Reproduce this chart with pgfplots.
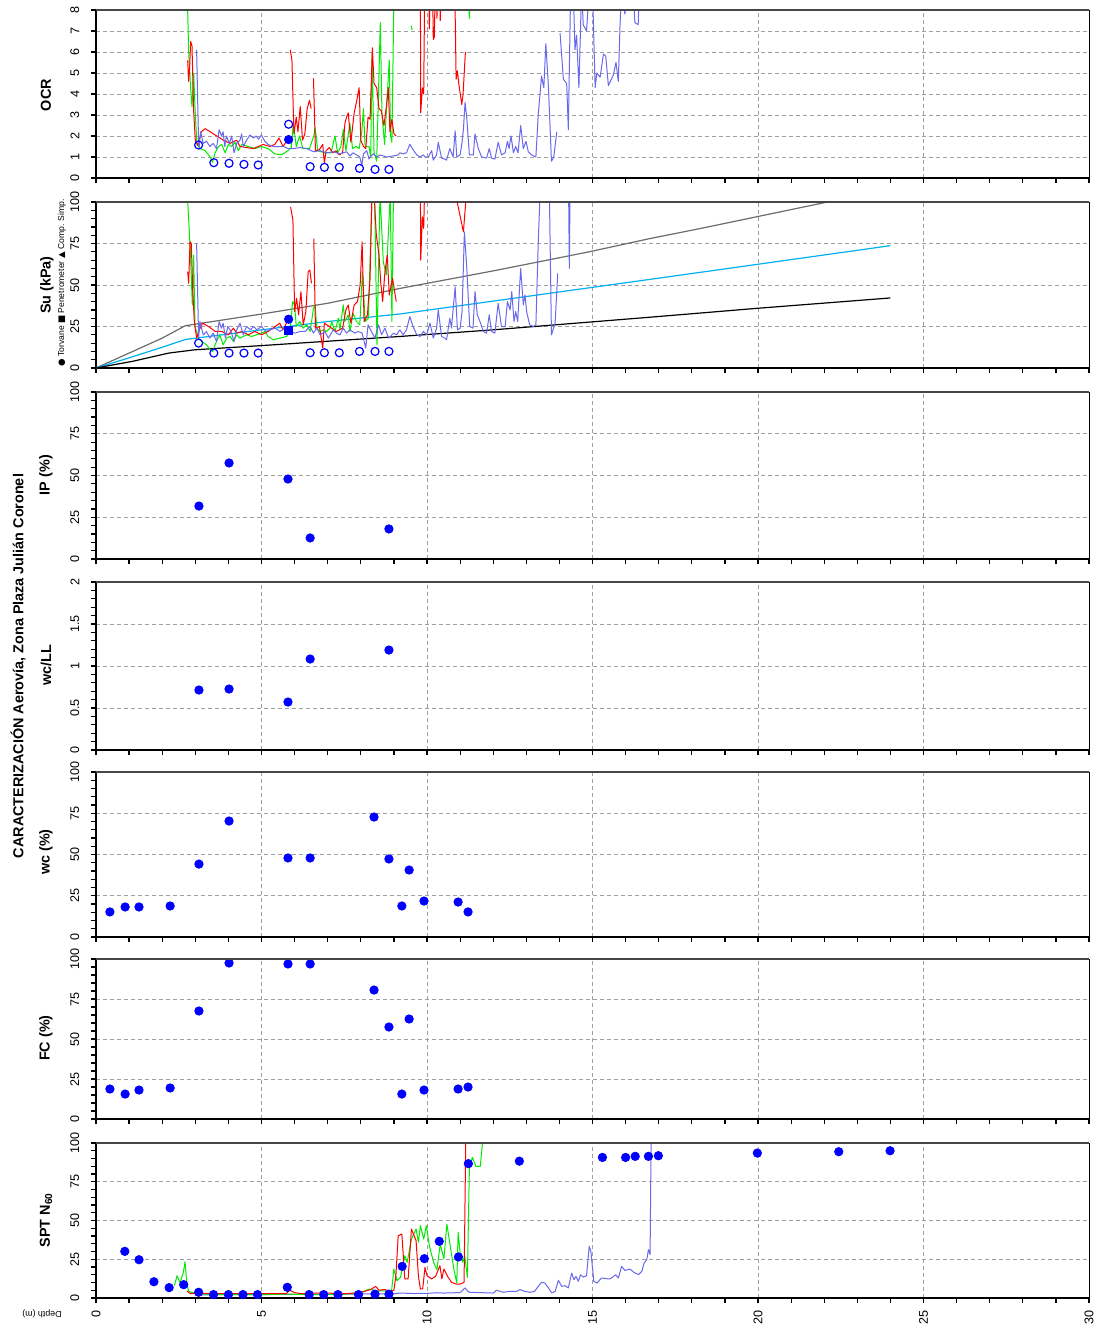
\documentclass[border=0pt]{standalone}
\usepackage{fontspec}
\setmainfont{Liberation Sans}
\newfontfamily\symfont{DejaVu Sans}
\usepackage{pgfplots}
\pgfplotsset{compat=1.18}

\definecolor{cptgreen}{RGB}{0,235,0}
\definecolor{cptred}{RGB}{255,0,0}
\definecolor{cptblue}{RGB}{105,105,235}
\definecolor{lab}{RGB}{0,0,255}
\definecolor{sucyan}{RGB}{0,176,240}

\pgfplotsset{
  panel/.style={
    scale only axis, width=496.5pt, anchor=north west,
    xmin=0, xmax=30, xtick={0,5,...,30}, minor x tick num=4,
    axis x line*=bottom, axis y line*=left,
    axis line style={-, line width=1pt, black},
    tick align=outside, major tick length=2.6pt, minor tick length=2.6pt,
    tick style={black, line width=0.6pt},
    xmajorgrids, ymajorgrids,
    major grid style={gray!75, dash pattern=on 2pt off 1.5pt, line width=0.5pt},
    tick label style={font=\fontsize{6.3}{7}\selectfont},
    /pgf/number format/assume math mode=true,
    yticklabel style={rotate=90, anchor=south},
    yticklabel shift=2.2pt,
    unbounded coords=jump,
    clip mode=individual,
    after end axis/.code={
      \draw[gray!55!black, line width=0.9pt] (rel axis cs:0,1) -- (rel axis cs:1,1);
      \draw[black, line width=0.4pt] (rel axis cs:1,0) -- (rel axis cs:1,1);
    },
  },
  cpt/.style={line width=0.5pt, line join=round, mark=none},
  dots/.style={only marks, mark=*, mark size=2.1pt, mark options={draw=lab, fill=lab}},
  rings/.style={only marks, mark=o, mark size=2pt, mark options={draw=lab, line width=0.6pt}},
}

\begin{document}
\begin{tikzpicture}
\path[use as bounding box] (-48pt,0pt) rectangle (500.5pt,-669.5pt);

% ---------------- OCR ----------------
\begin{axis}[panel, at={(0pt,-5pt)}, height=84pt,
  ymin=0, ymax=8, ytick={0,1,...,8}, xticklabels={}]
\addplot[cpt, cptgreen] coordinates {
(2.76,8.6) (2.80,6.0) (2.85,4.5) (2.90,3.4) (2.95,5.0) (3.00,3.0) (3.05,1.6) (3.15,1.4)
(3.30,1.3) (3.45,1.0) (3.52,0.75) (3.60,1.2) (3.70,1.5) (3.80,1.6) (3.90,1.2) (4.00,1.6)
(4.10,1.5) (4.20,1.7) (4.30,1.3) (4.40,1.6) (4.60,1.5) (4.80,1.4) (5.00,1.5) (5.20,1.4)
(5.40,1.15) (5.60,1.1) (5.80,1.3) (5.90,1.45) (5.96,2.6) (6.05,1.5) (6.15,2.0) (6.25,1.4)
(6.45,1.4) (6.58,2.0) (6.62,2.4) (6.70,1.3) (6.90,1.2) (7.10,1.2) (7.22,2.0) (7.30,1.2)
(7.40,1.5) (7.47,2.3) (7.55,1.3) (7.67,2.6) (7.75,1.4) (7.85,1.5) (7.95,1.4) (8.03,2.2)
(8.08,3.3) (8.13,1.5) (8.25,1.5) (8.30,1.0) (8.34,5.9) (8.40,1.2) (8.48,0.8) (8.55,5.0)
(8.59,7.4) (8.64,3.0) (8.72,1.6) (8.80,4.0) (8.86,5.6) (8.90,2.0) (8.94,1.7) (9.00,8.6)
(9.05,12) (9.10,nan)
(9.52,7.25) (9.55,7.05) (9.60,nan)
(11.26,8.6) (11.28,7.6) (11.30,8.6)
};
\addplot[cpt, cptred] coordinates {
(2.77,5.6) (2.80,4.6) (2.83,5.3) (2.86,6.5) (2.90,6.3) (2.95,3.2) (3.00,1.8) (3.08,1.55)
(3.18,2.2) (3.30,2.35) (3.45,2.2) (3.65,2.0) (3.85,1.8) (4.05,1.65) (4.25,1.8) (4.35,1.5)
(4.55,1.45) (4.75,1.4) (5.05,1.6) (5.25,1.5) (5.40,1.6) (5.53,1.9) (5.65,1.5) (5.80,1.85)
(5.84,nan)
(5.87,6.1) (5.92,5.6) (5.98,2.1) (6.05,2.9) (6.10,2.2) (6.17,3.4) (6.24,1.8) (6.31,2.1)
(6.38,3.3) (6.45,3.7) (6.50,3.3) (6.54,nan)
(6.57,4.75) (6.63,1.3) (6.75,1.35) (6.85,1.6) (6.90,0.7) (6.95,1.3) (7.05,1.45) (7.15,1.2)
(7.25,1.3) (7.35,1.1) (7.45,1.2) (7.52,2.6) (7.57,2.9) (7.62,3.1) (7.70,1.7) (7.80,3.1)
(7.88,3.7) (7.95,4.3) (8.00,1.8) (8.08,1.5) (8.15,1.4) (8.22,2.9) (8.28,2.8) (8.35,6.2)
(8.40,4.5) (8.48,4.3) (8.55,3.3) (8.62,3.2) (8.70,2.5) (8.78,3.5) (8.83,4.3) (8.88,2.2)
(8.94,2.8) (9.00,2.1) (9.07,2.0) (9.20,nan)
(9.80,9) (9.81,3.1) (9.86,4.3) (9.90,4.0) (9.93,9) (10.05,9) (10.07,7.1) (10.10,9)
(10.17,9) (10.19,6.6) (10.22,6.7) (10.25,9) (10.28,9) (10.30,7.6) (10.33,9) (10.38,9)
(10.40,7.5) (10.43,9) (10.84,9) (10.88,4.7) (10.92,5.1) (10.96,4.5) (11.05,3.5) (11.09,4.0)
(11.16,6.0)
};
\addplot[cpt, cptblue] coordinates {
(3.04,6.1) (3.10,1.6) (3.12,1.5) (3.16,2.2) (3.24,1.65) (3.34,1.75) (3.44,1.5) (3.54,1.65)
(3.64,1.4) (3.72,2.3) (3.79,2.0) (3.84,2.2) (3.89,1.5) (3.94,2.0) (4.03,1.65) (4.10,2.0)
(4.17,1.2) (4.25,1.65) (4.35,1.8) (4.40,2.1) (4.45,1.5) (4.55,1.8) (4.65,2.05) (4.76,1.9)
(4.84,2.0) (4.91,1.85) (5.00,2.05) (5.10,1.75) (5.20,1.6) (5.36,1.5) (5.51,1.5) (5.66,1.5)
(5.81,1.4) (5.96,1.4) (6.17,1.45) (6.37,1.4) (6.57,1.25) (6.77,1.3) (6.97,1.2) (7.17,1.25)
(7.37,1.15) (7.57,1.25) (7.67,1.05) (7.77,1.2) (7.87,1.1) (7.97,1.0) (8.03,0.6) (8.08,1.15)
(8.18,1.3) (8.25,0.9) (8.28,1.0) (8.38,1.15) (8.48,1.0) (8.58,1.1) (8.78,1.0) (8.98,1.05)
(9.13,1.1) (9.18,1.2) (9.28,1.15) (9.38,1.2) (9.48,1.6) (9.58,1.35) (9.69,1.1) (9.79,1.0)
(9.89,1.1) (9.94,1.0) (10.04,1.0) (10.14,1.3) (10.19,0.85) (10.29,1.1) (10.34,1.7) (10.44,0.95)
(10.54,0.9) (10.59,0.85) (10.69,1.4) (10.79,1.0) (10.85,2.25) (10.90,1.0) (11.00,1.1) (11.05,1.6)
(11.10,2.3) (11.15,3.6) (11.20,2.9) (11.28,1.1) (11.40,1.1) (11.45,2.1) (11.55,1.4) (11.65,1.0)
(11.80,0.95) (11.88,1.4) (11.95,0.95) (12.05,0.9) (12.15,1.7) (12.25,1.1) (12.36,1.2) (12.43,1.75)
(12.48,1.4) (12.54,2.0) (12.61,1.2) (12.68,1.5) (12.75,1.2) (12.83,2.5) (12.91,1.4) (12.99,1.75)
(13.06,1.25) (13.16,1.1) (13.29,1.0) (13.36,3.0) (13.46,4.85) (13.53,4.3) (13.59,6.4) (13.67,4.3)
(13.76,0.8) (13.83,1.0) (13.92,2.2) (13.97,nan)
(14.02,6.9) (14.12,4.7) (14.22,4.5) (14.27,2.3) (14.34,9) (14.42,9) (14.47,6.1) (14.52,6.8)
(14.59,4.3) (14.67,9) (14.72,7.3) (14.82,7.0) (14.90,9) (15.00,9) (15.08,4.3) (15.13,5.0)
(15.23,4.8) (15.33,5.9) (15.40,5.8) (15.48,4.4) (15.63,4.9) (15.71,5.5) (15.78,4.6) (15.83,7.2)
(15.88,9) (15.98,7.8) (16.05,9) (16.23,9) (16.28,7.4) (16.38,7.3) (16.42,9) (16.60,9)
};
\addplot[rings] coordinates {
(3.10,1.57) (3.56,0.73) (4.02,0.70) (4.47,0.65) (4.90,0.62) (5.82,2.56)
(6.47,0.54) (6.90,0.51) (7.35,0.51) (7.96,0.46) (8.43,0.41) (8.85,0.41)
};
\addplot[dots] coordinates {(5.82,1.83)};
\end{axis}

% ---------------- Su ----------------
\begin{axis}[panel, at={(0pt,-101pt)}, height=83pt,
  ymin=0, ymax=100, ytick={0,25,...,100}, minor y tick num=4, xticklabels={}]
\addplot[line width=0.6pt, gray!85!black] coordinates {
(0,0) (1,9) (2,18) (2.7,25.5) (5,32.5) (7,39) (9.2,48) (12,58.5) (14.9,70) (16.74,78)
(18.25,84) (22.1,100) (24,108)
};
\addplot[line width=0.6pt, sucyan] coordinates {
(0,0) (0.9,5.5) (2,12.5) (2.7,17.2) (5,23) (7,28) (9.2,32.6) (12,40.3) (16.74,53.4)
(20,62.5) (24,73.7)
};
\addplot[line width=0.6pt, black] coordinates {
(0,0) (1.1,4) (2.2,9) (3,11) (5,13.5) (9.18,19) (12,23) (16.74,30.6) (20,36) (24,42.2)
};
\addplot[cpt, cptgreen] coordinates {
(2.76,105) (2.85,70) (2.91,38) (2.95,68) (2.99,25) (3.09,18) (3.20,16) (3.34,14)
(3.45,11) (3.52,10) (3.60,14) (3.64,16) (3.74,20) (3.84,14) (3.95,18) (4.05,19)
(4.15,16) (4.25,20) (4.35,18) (4.45,19) (4.55,20) (4.70,19) (4.85,20) (5.00,21)
(5.10,22) (5.20,19) (5.36,17) (5.56,18) (5.76,19) (5.86,22) (5.94,40) (6.00,38)
(6.05,25) (6.16,28) (6.26,24) (6.37,26) (6.47,22) (6.57,36) (6.62,38) (6.67,24)
(6.77,22) (6.87,23) (6.97,22) (7.07,24) (7.12,28) (7.22,22) (7.32,30) (7.37,23)
(7.47,38) (7.52,28) (7.62,32) (7.67,22) (7.77,33) (7.87,28) (7.97,26) (8.05,58)
(8.13,28) (8.23,30) (8.34,105) (8.42,100) (8.49,14) (8.58,105) (8.68,64) (8.77,56)
(8.84,84) (8.89,105) (8.94,28) (8.99,110) (9.10,150)
};
\addplot[cpt, cptred] coordinates {
(2.77,58) (2.80,51) (2.84,76) (2.88,75) (2.92,48) (2.97,28) (3.04,18) (3.10,22)
(3.22,27) (3.40,25) (3.60,22) (3.80,22) (4.00,20) (4.15,24) (4.25,21) (4.40,22)
(4.60,20) (4.80,22) (5.00,20) (5.20,22) (5.35,24) (5.55,27) (5.65,23) (5.78,28)
(5.83,nan)
(5.88,97) (5.95,89) (6.00,34) (6.06,42) (6.12,32) (6.19,46) (6.26,26) (6.34,34)
(6.41,58) (6.46,59) (6.51,51) (6.55,nan)
(6.58,78) (6.63,24) (6.75,25) (6.85,12) (6.90,27) (7.05,25) (7.25,22) (7.45,24)
(7.55,35) (7.62,38) (7.70,27) (7.80,38) (7.90,40) (7.98,50) (8.04,76) (8.10,28)
(8.20,32) (8.28,54) (8.33,100) (8.40,105) (8.47,80) (8.55,68) (8.60,52) (8.66,40)
(8.73,58) (8.80,68) (8.86,44) (8.96,54) (9.07,40) (9.20,nan)
(9.80,110) (9.81,65) (9.86,91) (9.90,84) (9.93,110) (10.20,nan)
(10.86,105) (11.10,82) (11.19,105)
};
\addplot[cpt, cptblue] coordinates {
(3.04,75) (3.10,18) (3.14,28) (3.24,20) (3.34,22) (3.44,18) (3.54,21) (3.64,16)
(3.72,28) (3.79,24) (3.84,27) (3.91,18) (3.98,25) (4.08,22) (4.17,16) (4.25,23)
(4.35,27) (4.45,20) (4.55,25) (4.67,23) (4.76,25) (4.86,23) (5.00,25) (5.13,22)
(5.25,23) (5.41,24) (5.56,22) (5.71,24) (5.86,22) (6.01,21) (6.16,22) (6.32,22)
(6.47,25) (6.57,21) (6.67,24) (6.77,20) (6.92,22) (7.02,18) (7.17,23) (7.27,21)
(7.37,20) (7.47,24) (7.57,21) (7.67,23) (7.82,21) (7.92,22) (8.04,21) (8.15,12)
(8.22,26) (8.32,22) (8.43,18) (8.53,26) (8.63,20) (8.73,24) (8.84,18) (8.99,21)
(9.08,20) (9.18,23) (9.28,20) (9.38,23) (9.48,31) (9.58,25) (9.69,20) (9.79,19)
(9.89,22) (9.99,20) (10.09,27) (10.19,18) (10.29,24) (10.34,35) (10.44,19) (10.54,18)
(10.59,17) (10.69,30) (10.74,24) (10.85,49) (10.92,23) (11.00,24) (11.06,34) (11.13,82)
(11.20,61) (11.29,25) (11.39,24) (11.45,46) (11.52,32) (11.60,28) (11.70,22) (11.80,21)
(11.88,32) (11.95,22) (12.05,21) (12.15,39) (12.25,25) (12.36,25) (12.43,40) (12.51,35)
(12.56,46) (12.63,28) (12.68,34) (12.74,28) (12.83,60) (12.91,38) (12.96,44) (13.01,34)
(13.10,26) (13.21,25) (13.29,26) (13.36,75) (13.41,102) (13.70,102) (13.76,20) (13.87,27)
(13.95,57) (14.00,nan)
(14.28,102) (14.30,60) (14.32,102)
};
\addplot[rings] coordinates {
(3.10,15) (3.56,9) (4.02,9) (4.47,9) (4.90,9) (6.47,9.2)
(6.90,9.2) (7.35,9.2) (7.96,10) (8.43,10) (8.85,10)
};
\addplot[dots] coordinates {(5.82,29.4)};
\addplot[only marks, mark=square*, mark size=2pt, mark options={draw=lab, fill=lab}]
  coordinates {(5.82,22.6)};
\end{axis}

% ---------------- IP ----------------
\begin{axis}[panel, at={(0pt,-196pt)}, height=83.5pt,
  ymin=0, ymax=100, ytick={0,25,...,100}, minor y tick num=4, xticklabels={}]
\addplot[dots] coordinates {
(3.11,31.7) (4.02,57.5) (5.80,47.9) (6.47,12.6) (8.85,18.0)
};
\end{axis}

% ---------------- wc/LL ----------------
\begin{axis}[panel, at={(0pt,-291pt)}, height=84pt,
  ymin=0, ymax=2, ytick={0,0.5,...,2}, minor y tick num=4, xticklabels={}]
\addplot[dots] coordinates {
(3.11,0.714) (4.02,0.726) (5.80,0.571) (6.47,1.083) (8.85,1.19)
};
\end{axis}

% ---------------- wc ----------------
\begin{axis}[panel, at={(0pt,-386pt)}, height=82.5pt,
  ymin=0, ymax=100, ytick={0,25,...,100}, minor y tick num=4, xticklabels={}]
\addplot[dots] coordinates {
(0.42,15.2) (0.88,18.2) (1.30,18.2) (2.24,18.8) (3.11,44.2) (4.02,70.3) (5.80,47.9)
(6.47,47.9) (8.40,72.7) (8.85,47.3) (9.24,18.8) (9.46,40.6) (9.91,21.8) (10.94,21.2)
(11.24,15.2)
};
\end{axis}

% ---------------- FC ----------------
\begin{axis}[panel, at={(0pt,-479.5pt)}, height=80pt,
  ymin=0, ymax=100, ytick={0,25,...,100}, minor y tick num=4, xticklabels={}]
\addplot[dots] coordinates {
(0.42,18.75) (0.88,15.6) (1.30,18.1) (2.24,19.4) (3.11,67.5) (4.02,97.5) (5.80,96.9)
(6.47,96.9) (8.40,80.6) (8.85,57.5) (9.24,15.6) (9.46,62.5) (9.91,18.1) (10.94,18.75)
(11.24,20.0)
};
\end{axis}

% ---------------- SPT ----------------
\begin{axis}[panel, at={(0pt,-571.5pt)}, height=77.5pt,
  ymin=0, ymax=100, ytick={0,25,...,100}, minor y tick num=4,
  xticklabels={0,5,10,15,20,25,30},
  xticklabel style={rotate=90, anchor=east}]
\addplot[cpt, cptblue] coordinates {
(3.00,2.0) (4.00,2.2) (5.00,2.2) (6.00,2.4) (7.00,2.4) (8.00,2.6) (9.00,2.8) (9.20,3.2)
(9.60,2.9) (10.00,3.0) (10.30,3.4) (10.50,3.2) (11.00,3.5) (11.15,6.5) (11.25,4.0) (11.30,3.7)
(12.00,3.2) (12.10,5.0) (12.30,3.7) (12.50,4.3) (12.70,4.3) (12.81,5.4) (12.95,4.3) (13.11,3.7)
(13.25,4.3) (13.36,7.5) (13.46,10.1) (13.56,9.7) (13.67,6.5) (13.77,3.2) (13.87,4.3) (13.97,11.4)
(14.07,7.5) (14.17,8.0) (14.27,6.5) (14.37,16.1) (14.44,11.8) (14.50,14.0) (14.57,10.8) (14.64,15.0)
(14.72,13.5) (14.82,14.4) (14.90,33.3) (14.95,30.1) (15.04,10.8) (15.14,9.7) (15.27,12.9) (15.40,12.5)
(15.53,12.3) (15.70,15.0) (15.78,12.9) (15.88,20.4) (15.98,17.8) (16.13,18.7) (16.25,16.6) (16.39,15.1)
(16.49,17.2) (16.56,22.6) (16.64,24.7) (16.69,31.2) (16.74,28.0) (16.77,101)
};
\addplot[cpt, cptgreen] coordinates {
(2.37,8.0) (2.45,14.4) (2.54,9.7) (2.64,16.6) (2.69,23.4) (2.75,8.0) (2.81,4.1) (3.00,3.0)
(3.50,2.2) (4.00,2.2) (5.00,2.2) (5.80,2.5) (6.50,2.2) (7.50,2.5) (8.00,3.5) (8.26,5.8)
(8.50,4.5) (8.93,4.7) (9.00,18.7) (9.09,11.2) (9.20,13.3) (9.33,27.3) (9.40,23.0) (9.53,38.0)
(9.67,44.5) (9.74,36.0) (9.80,46.7) (9.90,38.0) (9.98,46.7) (10.07,33.8) (10.20,23.0) (10.30,18.3)
(10.40,34.8) (10.51,25.2) (10.60,47.7) (10.70,33.8) (10.81,18.7) (10.90,9.7) (10.94,42.4) (11.00,29.5)
(11.08,23.0) (11.14,27.3) (11.22,13.3) (11.28,83.0) (11.37,90.8) (11.48,85.0) (11.61,85.0) (11.68,101)
};
\addplot[cpt, cptred] coordinates {
(2.75,4.5) (2.85,2.8) (3.00,3.0) (4.00,2.8) (5.00,2.8) (5.75,2.8) (5.85,5.0) (6.00,3.5)
(6.20,2.8) (6.80,3.3) (7.50,2.8) (8.00,3.5) (8.30,5.5) (8.45,7.5) (8.55,5.0) (8.70,5.5)
(8.90,4.5) (9.00,5.0) (9.06,14.4) (9.13,40.2) (9.24,41.3) (9.33,12.3) (9.43,12.3) (9.53,44.5)
(9.67,37.0) (9.74,14.4) (9.80,5.8) (9.87,6.0) (9.94,19.8) (10.00,14.4) (10.14,12.3) (10.26,14.0)
(10.39,20.9) (10.45,12.3) (10.51,18.7) (10.62,14.0) (10.74,10.1) (10.88,9.0) (11.00,9.0) (11.12,10.1)
(11.17,101)
};
\addplot[dots] coordinates {
(0.87,30.1) (1.30,24.7) (1.75,10.5) (2.21,6.7) (2.65,8.6) (3.10,3.7) (3.55,2.2) (4.00,2.2)
(4.44,2.2) (4.88,2.2) (5.78,6.9) (6.44,2.2) (6.88,2.2) (7.31,2.2) (7.93,2.2) (8.43,2.5)
(8.85,2.5) (9.25,20.4) (9.92,25.4) (10.37,36.6) (10.95,26.5) (11.25,86.7) (12.79,88.3)
(15.30,90.7) (16.00,90.7) (16.29,91.4) (16.69,91.4) (16.99,91.8) (19.98,93.5) (22.44,94.4)
(23.99,95.0)
};
\end{axis}

% ---------------- panel titles ----------------
\begin{scope}[every node/.style={rotate=90, font=\bfseries\fontsize{7.2}{8}\selectfont, inner sep=0pt}]
\node at (-25pt,-47.5pt) {OCR};
\node at (-24.5pt,-142.5pt) {Su (kPa)};
\node at (-25pt,-237.5pt) {IP (\%)};
\node at (-25pt,-332.5pt) {wc/LL};
\node at (-25pt,-426pt) {wc (\%)};
\node at (-25pt,-519pt) {FC (\%)};
\node at (-25pt,-610pt) {SPT N\textsubscript{60}};
\node at (-39pt,-333pt) {CARACTERIZACIÓN Aerovía, Zona Plaza Julián Coronel};
\end{scope}
\node[rotate=90, inner sep=0pt, font=\fontsize{4.3}{5}\selectfont] at (-17pt,-141.5pt)
  {{\symfont ●} Torvane {\symfont ■} Penetrometer {\symfont ▲} Comp. Simp.};
\node[rotate=180, inner sep=0pt, font=\fontsize{4.4}{5}\selectfont] at (-27pt,-657pt) {Depth (m)};
\end{tikzpicture}
\end{document}
